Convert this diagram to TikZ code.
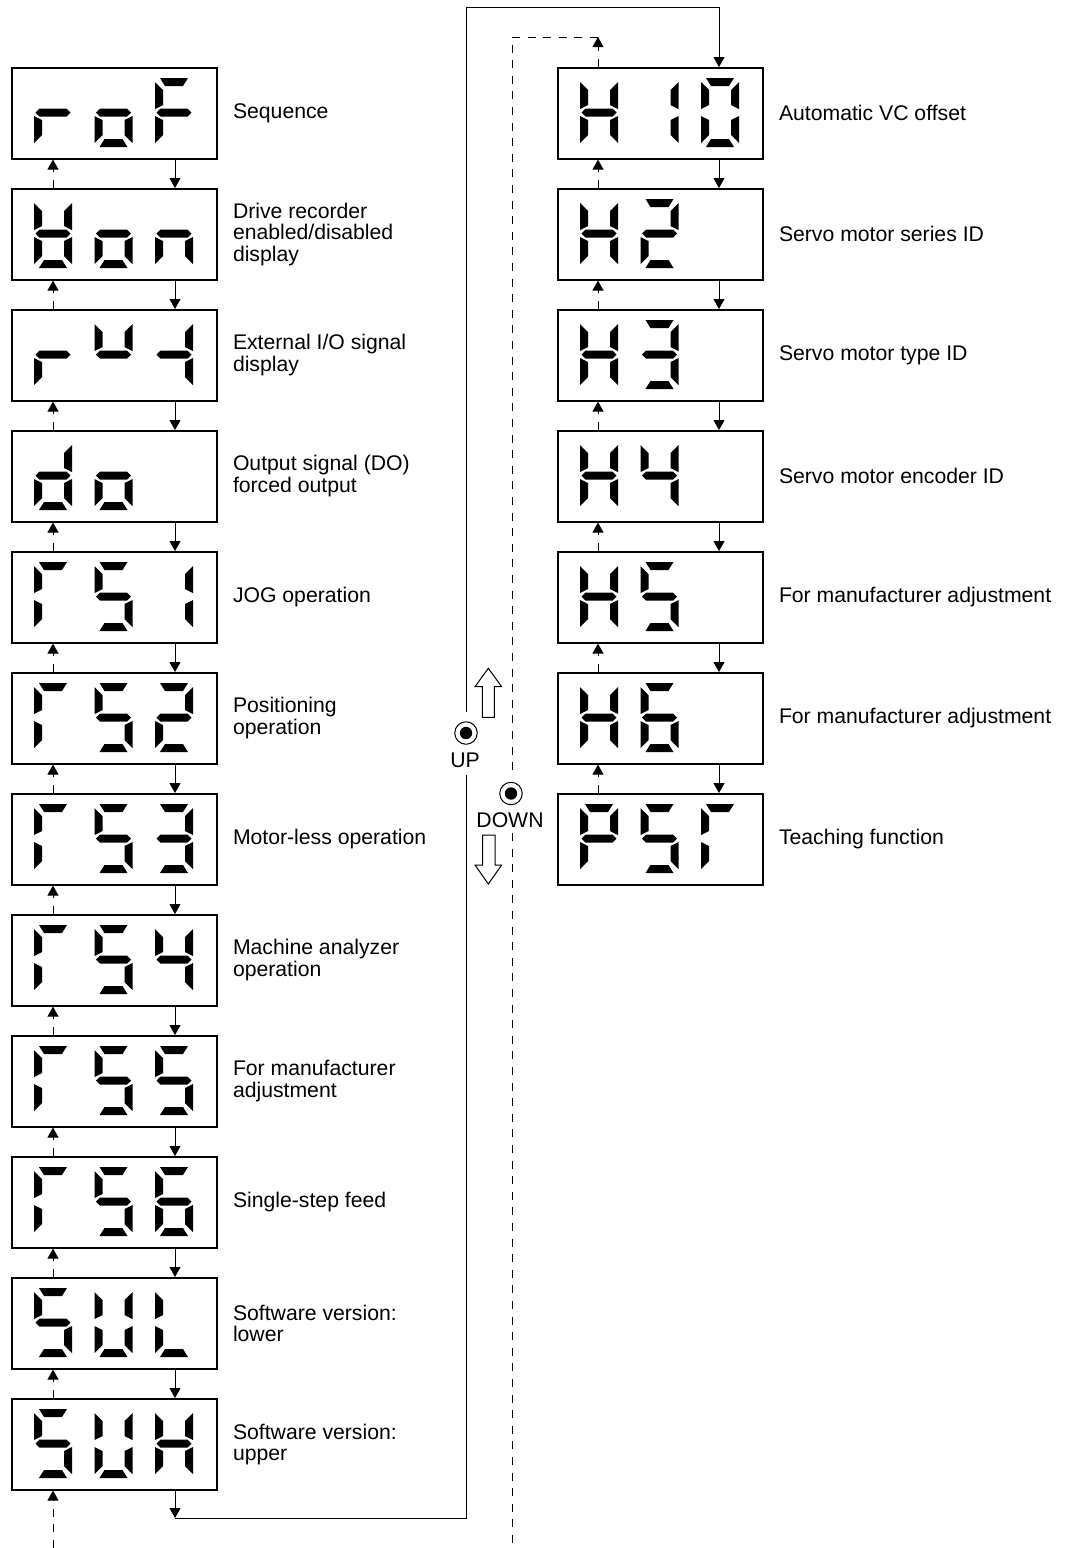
\documentclass[tikz,border=0pt]{standalone}
\usepackage{fontspec}
\setmainfont{Liberation Sans}
\usetikzlibrary{arrows.meta}
% seven-segment shapes (digit box 38 x 69 px, origin top-left)
\def\dsga{\fill (5,0) -- (33,0) -- (28,8) -- (10,8) -- cycle;}
\def\dsgd{\fill (5,69) -- (33,69) -- (28,61) -- (10,61) -- cycle;}
\def\dsgf{\fill (0,4) -- (8,12) -- (8,27) -- (0,31) -- cycle;}
\def\dsge{\fill (0,38) -- (8,42) -- (8,57) -- (0,65) -- cycle;}
\def\dsgb{\fill (38,4) -- (30,12) -- (30,27) -- (38,31) -- cycle;}
\def\dsgc{\fill (38,38) -- (30,42) -- (30,57) -- (38,65) -- cycle;}
\def\dsgg{\fill (1.5,34.5) -- (5.5,30.5) -- (32.5,30.5) -- (36.5,34.5) -- (32.5,38.5) -- (5.5,38.5) -- cycle;}
\newcommand\segdig[2]{\begin{scope}[shift={(#1,11)}]\foreach \s in {#2}{\csname dsg\s\endcsname}\end{scope}}
\newcommand\dispbx[6]{%
  \node[dispbox] (#1) at (#2,#3) {};
  \begin{scope}[shift={(#2,#3)}]\segdig{23}{#4}\segdig{83.5}{#5}\segdig{144}{#6}\end{scope}}
\begin{document}
\begin{tikzpicture}[x=0.5pt,y=-0.5pt,
  dispbox/.style={draw, line width=0.8pt, minimum width=102.5pt, minimum height=45.5pt, inner sep=0pt, anchor=north west},
  lbl/.style={anchor=west, align=left, inner sep=0pt, font=\fontsize{10.6pt}{10.8pt}\selectfont},
  cline/.style={line width=0.5pt},
  sarr/.style={cline, -{Triangle[width=5.5pt,length=5pt]}},
  dline/.style={cline, dash pattern=on 4pt off 3.8pt},
  darr/.style={dline, -{Triangle[width=5.5pt,length=5pt]}},
  btn/.style={circle, draw, line width=0.5pt, minimum size=22.5pt/2, inner sep=0pt}]
\useasboundingbox (0,0) rectangle (1066,1548);
% left column
\dispbx{L1}{11}{67}{e,g}{c,d,e,g}{a,f,g,e}
\dispbx{L2}{11}{188}{b,c,d,e,f,g}{c,d,e,g}{c,e,g}
\dispbx{L3}{11}{309}{e,g}{b,f,g}{b,c,g}
\dispbx{L4}{11}{430}{b,c,d,e,g}{c,d,e,g}{}
\dispbx{L5}{11}{551}{a,f,e}{a,f,g,c,d}{b,c}
\dispbx{L6}{11}{672}{a,f,e}{a,f,g,c,d}{a,b,g,e,d}
\dispbx{L7}{11}{793}{a,f,e}{a,f,g,c,d}{a,b,g,c,d}
\dispbx{L8}{11}{914}{a,f,e}{a,f,g,c,d}{f,b,g,c}
\dispbx{L9}{11}{1035}{a,f,e}{a,f,g,c,d}{a,f,g,c,d}
\dispbx{L10}{11}{1156}{a,f,e}{a,f,g,c,d}{a,f,g,e,c,d}
\dispbx{L11}{11}{1277}{a,f,g,c,d}{b,c,d,e,f}{f,e,d}
\dispbx{L12}{11}{1398}{a,f,g,c,d}{b,c,d,e,f}{f,b,g,e,c}
% right column
\dispbx{R1}{557}{67}{b,c,e,f,g}{b,c}{a,b,c,d,e,f}
\dispbx{R2}{557}{188}{b,c,e,f,g}{a,b,g,e,d}{}
\dispbx{R3}{557}{309}{b,c,e,f,g}{a,b,g,c,d}{}
\dispbx{R4}{557}{430}{b,c,e,f,g}{f,b,g,c}{}
\dispbx{R5}{557}{551}{b,c,e,f,g}{a,f,g,c,d}{}
\dispbx{R6}{557}{672}{b,c,e,f,g}{a,f,g,e,c,d}{}
\dispbx{R7}{557}{793}{a,b,f,g,e}{a,f,g,c,d}{a,f,e}
% labels
\node[lbl] (tL1) at ([xshift=7.5pt]L1.east) {Sequence};
\node[lbl] (tL2) at ([xshift=7.5pt]L2.east) {Drive recorder\\enabled/disabled\\display};
\node[lbl] (tL3) at ([xshift=7.5pt]L3.east) {External I/O signal\\display};
\node[lbl] (tL4) at ([xshift=7.5pt]L4.east) {Output signal (DO)\\forced output};
\node[lbl] (tL5) at ([xshift=7.5pt]L5.east) {JOG operation};
\node[lbl] (tL6) at ([xshift=7.5pt]L6.east) {Positioning\\operation};
\node[lbl] (tL7) at ([xshift=7.5pt]L7.east) {Motor-less operation};
\node[lbl] (tL8) at ([xshift=7.5pt]L8.east) {Machine analyzer\\operation};
\node[lbl] (tL9) at ([xshift=7.5pt]L9.east) {For manufacturer\\adjustment};
\node[lbl] (tL10) at ([xshift=7.5pt]L10.east) {Single-step feed};
\node[lbl] (tL11) at ([xshift=7.5pt]L11.east) {Software version:\\lower};
\node[lbl] (tL12) at ([xshift=7.5pt]L12.east) {Software version:\\upper};
\node[lbl] (tR1) at ([xshift=7.5pt]R1.east) {Automatic VC offset};
\node[lbl] (tR2) at ([xshift=7.5pt]R2.east) {Servo motor series ID};
\node[lbl] (tR3) at ([xshift=7.5pt]R3.east) {Servo motor type ID};
\node[lbl] (tR4) at ([xshift=7.5pt]R4.east) {Servo motor encoder ID};
\node[lbl] (tR5) at ([xshift=7.5pt]R5.east) {For manufacturer adjustment};
\node[lbl] (tR6) at ([xshift=7.5pt]R6.east) {For manufacturer adjustment};
\node[lbl] (tR7) at ([xshift=7.5pt]R7.east) {Teaching function};
% arrows between boxes
\foreach \i in {1,...,11}{
  \pgfmathtruncatemacro\j{\i+1}
  \draw[sarr] ([xshift=82pt]L\i.south west) -- ([xshift=82pt]L\j.north west);
  \draw[darr] ([xshift=21pt]L\j.north west) -- ([xshift=21pt]L\i.south west);
}
\foreach \i in {1,...,6}{
  \pgfmathtruncatemacro\j{\i+1}
  \draw[sarr] ([xshift=81pt]R\i.south west) -- ([xshift=81pt]R\j.north west);
  \draw[darr] ([xshift=20.5pt]R\j.north west) -- ([xshift=20.5pt]R\i.south west);
}
% loop connectors
\coordinate (lbot) at (175,1518);
\coordinate (upgb) at (466,775);
\coordinate (upgt) at (466,712);
\coordinate (ltop) at (466,7);
\coordinate (dtop) at (598,37);
\coordinate (dngt) at (512,770);
\coordinate (dngb) at (512,833);
\coordinate (dbot) at (512,1548);
\coordinate (lbotd) at (53,1548);
\draw[sarr] ([xshift=82pt]L12.south west) -- (lbot);
\draw[cline] (lbot) -| (upgb);
\draw[sarr] (upgt) -- (ltop) -| ([xshift=81pt]R1.north west);
\draw[darr] ([xshift=20.5pt]R1.north west) -- (dtop);
\draw[dline] (dtop) -| (dngt);
\draw[dline] (dngb) -- (dbot);
\draw[darr] (lbotd) -- ([xshift=21pt]L12.south west);
% UP / DOWN buttons
\node[btn] (upbtn) at (466,733) {};
\fill (upbtn.center) circle[radius=3.1pt];
\node[lbl, anchor=center] (uptxt) at (465,760) {UP};
\node[btn] (dnbtn) at (511,793.5) {};
\fill (dnbtn.center) circle[radius=3.1pt];
\node[lbl, anchor=center] (dntxt) at (510,820) {DOWN};
\draw[cline] (482.3,717.3) -- (482.3,686.7) -- (475,686.7) -- (488.3,668.3) -- (501.7,686.7) -- (494.3,686.7) -- (494.3,717.3) -- cycle;
\draw[cline] (482.7,835) -- (482.7,865) -- (475,865) -- (488.3,884) -- (501.7,865) -- (495,865) -- (495,835) -- cycle;
\end{tikzpicture}
\end{document}
